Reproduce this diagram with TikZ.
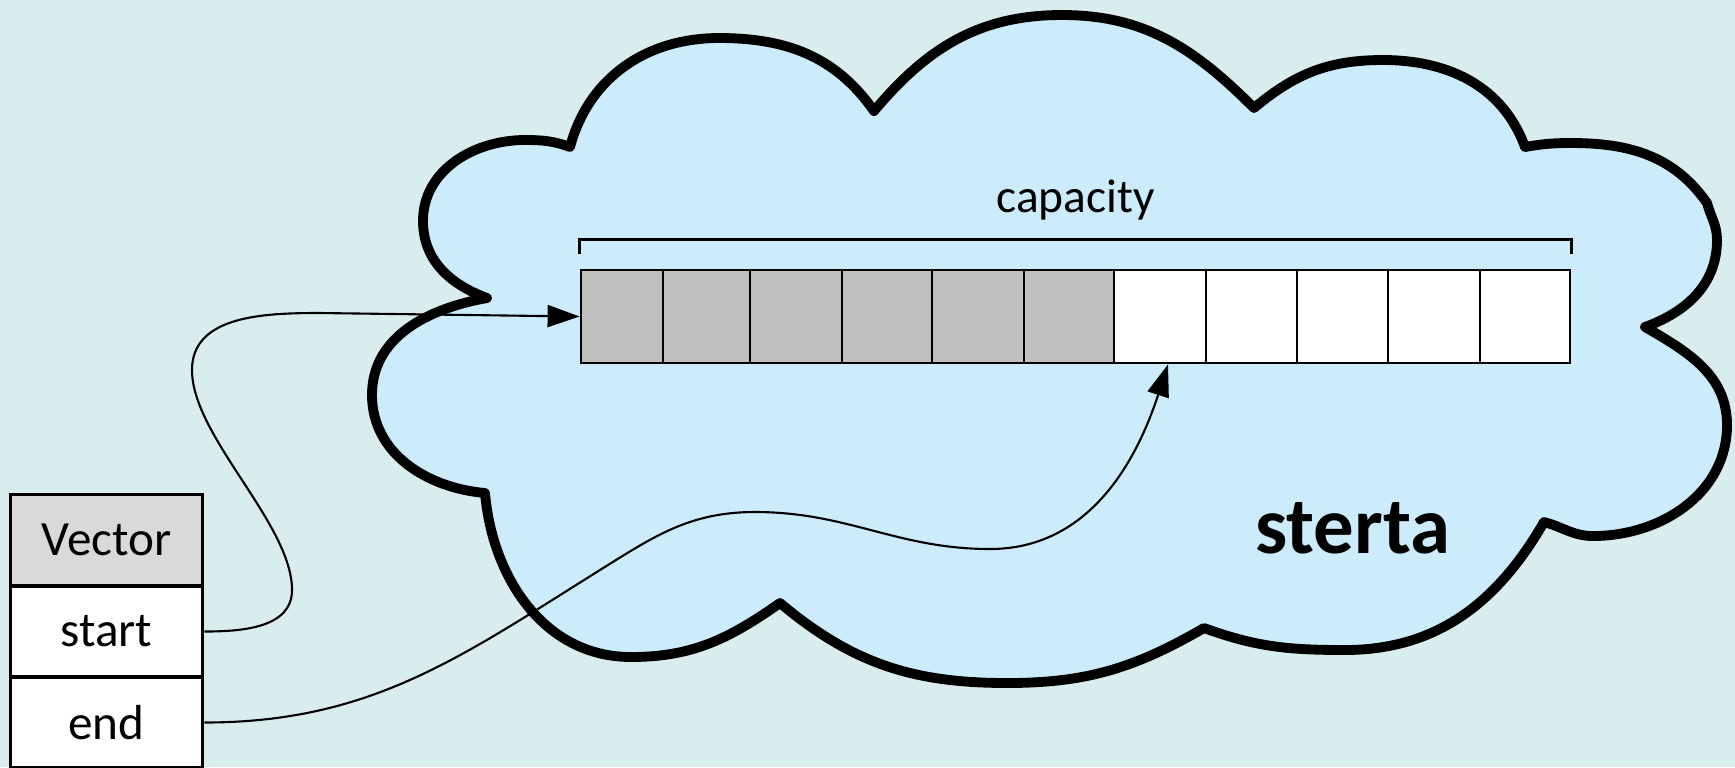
\documentclass[tikz,border=0pt]{standalone}
\usepackage{fontspec}
\setmainfont{Carlito}
\usepackage{tikz}
\usetikzlibrary{
	arrows.meta,positioning
}

\definecolor{bgcol}{RGB}{218,237,238}
\definecolor{heapcol}{RGB}{204,236,252}
\definecolor{usedcol}{RGB}{191,191,191}
\definecolor{headcol}{RGB}{217,217,217}

\tikzset{
	field/.style={draw,line width=1pt,minimum width=1.92cm,minimum height=0.91cm,inner sep=0pt,font=\fontsize{14}{16}\selectfont},
	slot/.style={draw,line width=0.8pt,minimum height=0.93cm,inner sep=0pt},
	ptr/.style={line width=0.6pt,-{Triangle[length=3.2mm,width=2.2mm]}},
}

\begin{document}
\begin{tikzpicture}
		\useasboundingbox (0,0) rectangle (17.35,-7.67);
		\fill[bgcol] (0,0) rectangle (17.35,-7.67);
		
		% the heap
		\draw[line width=2.8pt,fill=heapcol,line join=round]
		(4.87,-2.98) to[out=160,in=-90] (4.23,-2.21) to[out=90,in=180] (5.25,-1.40)
		to[out=0,in=160] (5.70,-1.47)
		to[out=75,in=180] (7.19,-0.38) to[out=0,in=125] (8.74,-1.11)
		to[out=50,in=180] (10.62,-0.15) to[out=0,in=135] (12.54,-1.08)
		to[out=40,in=180] (13.83,-0.60) to[out=0,in=110] (15.25,-1.47)
		to[out=10,in=180] (15.71,-1.43) to[out=0,in=125] (17.07,-2.03)
		to[out=-75,in=90] (17.17,-2.40) to[out=-90,in=20] (16.45,-3.27)
		to[out=-30,in=90] (17.27,-4.25) to[out=-90,in=0] (15.93,-5.36)
		to[out=180,in=-15] (15.44,-5.22)
		to[out=-120,in=0] (13.45,-6.50) to[out=180,in=-20] (12.04,-6.28)
		to[out=210,in=0] (10.07,-6.83) to[out=180,in=-40] (7.80,-6.03)
		to[out=215,in=0] (6.31,-6.57) to[out=180,in=-85] (4.85,-4.93)
		to[out=175,in=-90] (3.72,-3.95) to[out=90,in=190] (4.87,-2.98) -- cycle;
		
		% the array
		\foreach \a/\b [count=\i] in {5.81/6.63,6.63/7.50,7.50/8.42,8.42/9.32,9.32/10.24,10.24/11.14}
			\node[slot,fill=usedcol,minimum width={(\b-\a)*1cm}] (c\i) at ({(\a+\b)/2},-3.165) {};
		\foreach \a/\b [count=\i from 7] in {11.14/12.06,12.06/12.97,12.97/13.88,13.88/14.80,14.80/15.70}
			\node[slot,fill=white,minimum width={(\b-\a)*1cm}] (c\i) at ({(\a+\b)/2},-3.165) {};
		
		\draw[line width=0.8pt] ([yshift=1.5mm]c1.north west) -- ([yshift=2.9mm]c1.north west)
			-- ([yshift=2.9mm]c11.north east) -- ([yshift=1.5mm]c11.north east);
		\node[font=\fontsize{13.5}{16}\selectfont] (cap) at (10.755,-2.0) {capacity};
		\node[font=\fontsize{23}{27}\selectfont\bfseries] (heap) at (13.53,-5.28) {sterta};
		
		% the vector
		\node[field,fill=headcol] (vh) at (1.065,-5.40) {Vector};
		\node[field,fill=white] (vs) at (1.065,-6.315) {start};
		\node[field,fill=white] (ve) at (1.065,-7.225) {end};
		
		\coordinate (tip) at ([xshift=0.8mm]c7.south);
		
		\draw[ptr] (vs.east) to[out=0,in=-90] (2.92,-5.90) to[out=90,in=-90,looseness=0.7] (1.92,-3.70)
			to[out=90,in=180] (3.2,-3.13) -- (c1.west);
		\draw[ptr] (ve.east) to[out=0,in=212] (6.0,-5.70) to[out=32,in=180] (7.55,-5.12)
			to[out=0,in=180] (9.9,-5.49) to[out=0,in=-108] (tip);
		
	\end{tikzpicture}
\end{document}
